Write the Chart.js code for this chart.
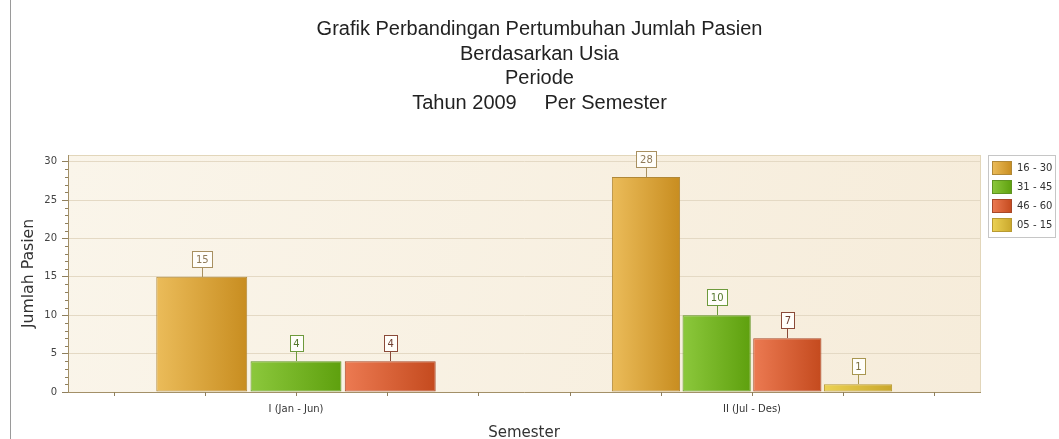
<!DOCTYPE html>
<html lang="id">
<head>
<meta charset="UTF-8">
<title>Grafik Perbandingan Pertumbuhan Jumlah Pasien</title>
<script src="https://cdn.jsdelivr.net/npm/chart.js@4"></script>
<style>
  html, body {
    margin: 0;
    padding: 0;
    background: #fff;
    overflow: hidden;
  }
  #wrap {
    position: relative;
    width: 1059px;
    height: 439px;
  }
</style>
</head>
<body>
<div id="wrap"><canvas id="chart"></canvas></div>
<script>
  // data
  const categories = ['I (Jan - Jun)', 'II (Jul - Des)'];
  const seriesLabels = ['16 - 30', '31 - 45', '46 - 60', '05 - 15'];
  const usia16_30 = [15, 28];
  const usia31_45 = [4, 10];
  const usia46_60 = [4, 7];
  const usia05_15 = [null, 1];
  const yTicks = [0, 5, 10, 15, 20, 25, 30];

  // styles
  const lightCol  = ['#ebbc5a', '#8cc83c', '#ec7a52', '#ecd254'];
  const darkCol   = ['#c88d20', '#5ea00e', '#c44a1e', '#c9a72c'];
  const edgeCol   = ['#b08838', '#5f9422', '#a8482a', '#b89a32'];
  const boxEdge   = ['#a89060', '#6e9a3c', '#8a4a38', '#a89650'];
  const boxText   = ['#8f7a58', '#55782e', '#6e3e30', '#7c7040'];

  function barFill(di) {
    return (c) => {
      const el = c.chart.getDatasetMeta(c.datasetIndex).data[c.dataIndex];
      if (!el || !el.width) return darkCol[di];
      const g = c.chart.ctx.createLinearGradient(el.x - el.width / 2, 0, el.x + el.width / 2, 0);
      g.addColorStop(0, lightCol[di]);
      g.addColorStop(1, darkCol[di]);
      return g;
    };
  }

  const seriesData = [usia16_30, usia31_45, usia46_60, usia05_15];

  const plotDecor = {
    id: 'plotDecor',
    beforeDraw(chart) {
      const { ctx, chartArea: a } = chart;
      ctx.save();
      // page rule on the left
      ctx.fillStyle = '#9a9a9a';
      ctx.fillRect(10, 0, 1, chart.height);
      // plot background
      const g = ctx.createLinearGradient(a.left, a.top, a.right, a.bottom);
      g.addColorStop(0, '#faf5ea');
      g.addColorStop(1, '#f6ecda');
      ctx.fillStyle = g;
      ctx.fillRect(a.left, a.top, a.width, a.height);
      ctx.strokeStyle = '#e2d6ba';
      ctx.lineWidth = 1;
      ctx.strokeRect(Math.round(a.left) + 0.5, Math.round(a.top) + 0.5, Math.round(a.width), Math.round(a.height));
      ctx.restore();
    },
    afterDraw(chart) {
      const { ctx, chartArea: a } = chart;
      const y = chart.scales.y;
      ctx.save();
      ctx.strokeStyle = '#8f7f5c';
      ctx.lineWidth = 1;
      ctx.beginPath();
      // minor ticks on the value axis
      for (let v = 0; v <= 30; v++) {
        if (v % 5 === 0) continue;
        const py = Math.round(y.getPixelForValue(v)) + 0.5;
        ctx.moveTo(a.left - 3, py);
        ctx.lineTo(a.left, py);
      }
      // small ticks along the category axis
      for (let i = 0; i < 10; i++) {
        const px = Math.round(a.left + (i + 0.5) * a.width / 10) + 0.5;
        ctx.moveTo(px, a.bottom);
        ctx.lineTo(px, a.bottom + 4);
      }
      ctx.stroke();
      ctx.restore();
    }
  };

  const labelBoxes = {
    id: 'labelBoxes',
    afterDatasetsDraw(chart) {
      const ctx = chart.ctx;
      ctx.save();
      ctx.font = '10px "DejaVu Sans"';
      ctx.lineWidth = 1;
      chart.data.datasets.forEach((ds, di) => {
        const meta = chart.getDatasetMeta(di);
        meta.data.forEach((el, i) => {
          const v = ds.data[i];
          if (v == null) return;
          const txt = String(v);
          const w = Math.round(ctx.measureText(txt).width) + 7;
          const h = 16;
          const cx = Math.round(el.x) + 0.5;
          const barTop = Math.round(el.y);
          const top = barTop - 10 - h;
          ctx.strokeStyle = boxEdge[di];
          ctx.beginPath();
          ctx.moveTo(cx, barTop);
          ctx.lineTo(cx, top + h);
          ctx.stroke();
          const bx = Math.round(el.x - w / 2) + 0.5;
          ctx.fillStyle = '#fffefa';
          ctx.fillRect(bx, top + 0.5, w, h);
          ctx.strokeRect(bx, top + 0.5, w, h);
          ctx.fillStyle = boxText[di];
          ctx.textAlign = 'center';
          ctx.textBaseline = 'middle';
          ctx.fillText(txt, el.x + 0.5, top + h / 2 + 1);
        });
      });
      ctx.restore();
    }
  };

  const sideLegend = {
    id: 'sideLegend',
    afterDraw(chart) {
      const ctx = chart.ctx;
      const a = chart.chartArea;
      const x0 = a.right + 8, y0 = Math.round(a.top) + 0.5;
      ctx.save();
      ctx.fillStyle = '#ffffff';
      ctx.strokeStyle = '#c6c6c6';
      ctx.lineWidth = 1;
      ctx.fillRect(x0, y0, 67, 82);
      ctx.strokeRect(x0 + 0.5, y0, 67, 82);
      ctx.font = '10px "DejaVu Sans"';
      ctx.textBaseline = 'middle';
      ctx.textAlign = 'left';
      chart.data.datasets.forEach((ds, di) => {
        const cy = y0 + 12 + di * 19.3;
        const bx = x0 + 4, by = Math.round(cy - 7);
        const g = ctx.createLinearGradient(bx, 0, bx + 20, 0);
        g.addColorStop(0, lightCol[di]);
        g.addColorStop(1, darkCol[di]);
        ctx.fillStyle = g;
        ctx.fillRect(bx, by, 20, 14);
        ctx.strokeStyle = edgeCol[di];
        ctx.strokeRect(bx + 0.5, by + 0.5, 19, 13);
        ctx.fillStyle = '#333';
        ctx.fillText(ds.label, x0 + 29, cy + 0.5);
      });
      ctx.restore();
    }
  };

  const ctx = document.getElementById('chart').getContext('2d');
  const chart = new Chart(ctx, {
    type: 'bar',
    data: {
      labels: categories,
      datasets: seriesData.map((d, di) => ({
        label: seriesLabels[di],
        data: d,
        backgroundColor: barFill(di),
        borderColor: edgeCol[di],
        borderWidth: 1,
        borderSkipped: false,
        skipNull: true,
        categoryPercentage: 0.62,
        barPercentage: 0.965,
        yAxisID: 'y'
      }))
    },
    options: {
      responsive: true,
      maintainAspectRatio: false,
      animation: false,
      layout: { padding: { left: 20, right: 0, top: 0, bottom: 0 } },
      plugins: {
        legend: { display: false },
        tooltip: { enabled: false },
        title: {
          display: true,
          text: ['Grafik Perbandingan Pertumbuhan Jumlah Pasien', 'Berdasarkan Usia', 'Periode', 'Tahun 2009     Per Semester'],
          color: '#222',
          font: { family: '"Liberation Sans", Arial', size: 20, weight: 'normal', lineHeight: 1.225 },
          padding: { top: 17.5, bottom: 39.5 }
        }
      },
      scales: {
        x: {
          grid: { display: false, drawTicks: false },
          border: { display: true, color: '#a39068' },
          ticks: { color: '#333', font: { family: '"DejaVu Sans"', size: 10 }, padding: 11 },
          title: {
            display: true,
            text: 'Semester',
            color: '#333',
            font: { family: '"DejaVu Sans"', size: 15, lineHeight: 0.85 },
            padding: { top: 0, bottom: 0 }
          },
          afterFit(s) { s.height = 47; }
        },
        y: {
          min: 0,
          max: 30.86,
          ticks: {
            stepSize: 5,
            color: '#444',
            padding: 5,
            font: { family: '"DejaVu Sans"', size: 10 }
          },
          afterBuildTicks(s) { s.ticks = yTicks.map(v => ({ value: v })); },
          grid: { color: '#e4d9c4', tickColor: '#8f7f5c', tickLength: 6 },
          border: { color: '#a39068' },
          title: {
            display: true,
            text: 'Jumlah Pasien',
            color: '#333',
            font: { family: '"DejaVu Sans"', size: 15.7, lineHeight: 1.15 },
            padding: 0
          },
          afterFit(s) { s.width = 48; }
        },
        y2: {
          position: 'right',
          display: true,
          grid: { display: false, drawTicks: false },
          border: { display: false },
          ticks: { display: false },
          afterFit(s) { s.width = 79; }
        }
      }
    },
    plugins: [plotDecor, labelBoxes, sideLegend]
  });
  // second pass so the bar gradients know each bar's position
  chart.update('none');
</script>
</body>
</html>
